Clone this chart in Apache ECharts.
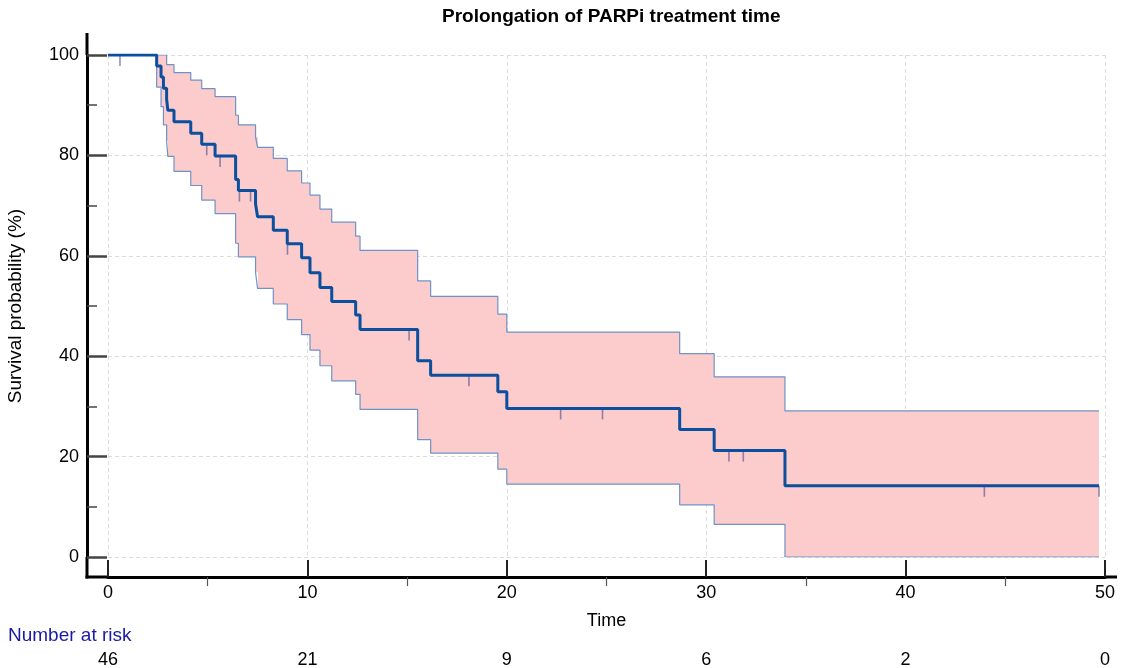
<!DOCTYPE html>
<html>
<head>
<meta charset="utf-8">
<script src="https://cdn.jsdelivr.net/npm/echarts@6/dist/echarts.min.js"></script>
<style>
  html, body { margin: 0; padding: 0; background: #fff; }
  #grafico { width: 1122px; height: 668px; }
</style>
</head>
<body>
<div id="grafico"></div>
<script>
// Datos
const tiempos = [0, 2.44, 2.66, 2.78, 2.94, 3.0, 3.31, 4.15, 4.7, 5.37, 6.4, 6.54, 7.4, 7.5, 8.29, 8.99,
  9.71, 10.13, 10.63, 11.22, 12.42, 12.64, 15.53, 16.18, 19.55, 20.0, 28.67, 30.4, 33.95];
const supervivencia = [100, 97.8, 95.6, 93.4, 91.2, 89.0, 86.7, 84.4, 82.2, 79.9, 75.2, 73.0, 70.3, 67.8, 65.1, 62.4,
  59.6, 56.6, 53.7, 50.9, 48.2, 45.3, 39.1, 36.2, 32.9, 29.6, 25.4, 21.2, 14.2];
const limiteSuperior = [100, 100, 100, 100, 98.1, 98.1, 96.5, 95.0, 93.3, 91.7, 88.0, 86.1, 83.7, 81.6, 79.4, 76.9,
  74.5, 72.1, 69.3, 66.7, 63.9, 61.1, 55.0, 51.9, 48.4, 44.8, 40.5, 35.9, 29.1];
const limiteInferior = [100, 93.6, 89.7, 86.1, 82.9, 79.8, 76.8, 74.0, 71.1, 68.4, 62.5, 59.8, 56.7, 53.5, 50.4, 47.3,
  44.3, 41.2, 38.1, 35.1, 32.4, 29.4, 23.4, 20.7, 17.5, 14.5, 10.4, 6.5, 0];
const tiempoFinal = 49.7;
const censurados = [0.6, 4.95, 5.62, 6.59, 7.15, 9.0, 15.1, 18.1, 22.7, 24.8, 31.14, 31.86, 43.95, 49.7];

const riesgoTiempos = [0, 10, 20, 30, 40, 50];
const riesgoNumeros = [46, 21, 9, 6, 2, 0];

// Layout
const gLeft = 108, gRight = 17, gTop = 55, gBottom = 111;
const W = 1122, H = 668;
const fuente = 'Liberation Sans, Arial, sans-serif';

// PROCESAMIENTO
function conFinal(valores) {
  const out = tiempos.map((t, i) => [t, valores[i]]);
  out.push([tiempoFinal, valores[valores.length - 1]]);
  return out;
}

function valorEn(t) {
  let v = supervivencia[0];
  for (let i = 0; i < tiempos.length; i++) {
    if (tiempos[i] <= t) v = supervivencia[i];
  }
  return v;
}

const datosSup = conFinal(supervivencia);
const datosLimSup = conFinal(limiteSuperior);
const datosLimInf = conFinal(limiteInferior);
// tramos de la banda de confianza: [t0, t1, inferior, superior]
const datosBanda = tiempos.map((t, i) => [
  t, i + 1 < tiempos.length ? tiempos[i + 1] : tiempoFinal, limiteInferior[i], limiteSuperior[i]
]);
const datosCensura = censurados.map(t => [t, valorEn(t)]);

function dibujarTramo(params, api) {
  const a = api.coord([api.value(0), api.value(3)]);
  const b = api.coord([api.value(1), api.value(2)]);
  const x0 = Math.round(a[0]), x1 = Math.round(b[0]);
  return {
    type: 'rect',
    shape: { x: x0, y: a[1], width: x1 - x0, height: b[1] - a[1] },
    style: { fill: '#fccbcb' }
  };
}

function crearGrafico() {
  const axisX = H - gBottom + 20;
  const axisY = gLeft - 21;
  const ejeNegro = { type: 'line', silent: true, style: { stroke: '#000', lineWidth: 3 } };
  const lineaIC = { color: '#7092c8', width: 1.2 };
  return {
    animation: false,
    title: [
      {
        text: 'Prolongation of PARPi treatment time',
        left: 437, top: 2,
        textStyle: { fontFamily: fuente, fontSize: 19, fontWeight: 'bold', color: '#000' }
      },
      {
        text: 'Number at risk',
        left: 3, top: 621,
        textStyle: { fontFamily: fuente, fontSize: 19, fontWeight: 'normal', color: '#1a1aa6' }
      }
    ],
    grid: {
      left: gLeft, right: gRight, top: gTop, bottom: gBottom,
      containLabel: false, outerBoundsMode: 'none'
    },
    xAxis: [
      {
        type: 'value', min: 0, max: 50, interval: 10, offset: 20,
        name: 'Time', nameLocation: 'middle', nameGap: 35,
        nameTextStyle: { fontFamily: fuente, fontSize: 18, color: '#000' },
        axisLine: { show: true, onZero: false, lineStyle: { color: '#000', width: 3 } },
        axisTick: { show: false },
        minorTick: { show: true, splitNumber: 2, length: 9, lineStyle: { color: '#555', width: 1.2 } },
        axisLabel: { margin: 7, fontFamily: fuente, fontSize: 18, color: '#000' },
        splitLine: { show: true, lineStyle: { color: '#dcdcdc', type: [4, 3] } }
      },
      {
        type: 'value', min: 0, max: 50, interval: 10, position: 'bottom', offset: 90,
        axisLine: { show: false, onZero: false }, axisTick: { show: false }, splitLine: { show: false },
        axisLabel: {
          margin: 4, fontFamily: fuente, fontSize: 18, color: '#000',
          formatter: v => {
            const i = riesgoTiempos.indexOf(v);
            return i >= 0 ? String(riesgoNumeros[i]) : '';
          }
        }
      },
      {
        // marcas principales del eje de tiempo
        type: 'value', min: 0, max: 50, interval: 10, position: 'bottom', offset: 20, z: 10,
        axisLine: { show: false, onZero: false }, splitLine: { show: false }, axisLabel: { show: false },
        axisTick: { show: true, inside: true, length: 17, lineStyle: { color: '#222', width: 2 } }
      }
    ],
    yAxis: {
      type: 'value', min: 0, max: 100, interval: 20, offset: 21,
      name: 'Survival probability (%)', nameLocation: 'middle', nameGap: 62,
      nameTextStyle: { fontFamily: fuente, fontSize: 19, color: '#000' },
      axisLine: { show: true, onZero: false, lineStyle: { color: '#000', width: 3 } },
      axisTick: { show: true, inside: true, length: 20, lineStyle: { color: '#444', width: 2.5 } },
      minorTick: { show: true, splitNumber: 2, length: 10, lineStyle: { color: '#444', width: 1.5 } },
      axisLabel: { margin: 8, fontFamily: fuente, fontSize: 18, color: '#000' },
      splitLine: { show: true, lineStyle: { color: '#dcdcdc', type: [4, 3] } }
    },
    // prolongacion de los ejes fuera del area de datos
    graphic: [
      Object.assign({ shape: { x1: axisY, y1: 33, x2: axisY, y2: gTop } }, ejeNegro),
      Object.assign({ shape: { x1: axisY, y1: H - gBottom, x2: axisY, y2: axisX + 1.5 } }, ejeNegro),
      Object.assign({ shape: { x1: axisY - 1.5, y1: axisX, x2: gLeft, y2: axisX } }, ejeNegro),
      Object.assign({ shape: { x1: W - gRight, y1: axisX, x2: 1117, y2: axisX } }, ejeNegro)
    ],
    series: [
      {
        name: 'Banda', type: 'custom', data: datosBanda, z: 1,
        encode: { x: [0, 1], y: [2, 3] },
        renderItem: dibujarTramo, silent: true
      },
      {
        name: 'Superior', type: 'line', step: 'end', symbol: 'none',
        data: datosLimSup, z: 2, lineStyle: lineaIC
      },
      {
        name: 'Inferior', type: 'line', step: 'end', symbol: 'none',
        data: datosLimInf, z: 2, lineStyle: lineaIC
      },
      {
        name: 'Censurados', type: 'scatter', data: datosCensura, z: 3,
        symbol: 'rect', symbolSize: [1.6, 11], symbolOffset: [0, 5.5],
        itemStyle: { color: 'rgba(70,75,140,0.75)' }
      },
      {
        name: 'Supervivencia', type: 'line', step: 'end', symbol: 'none',
        data: datosSup, z: 4,
        lineStyle: { color: '#0b4f9f', width: 3 }
      }
    ]
  };
}

function iniciar() {
  const chartDom = document.getElementById('grafico');
  const myChart = echarts.init(chartDom, null, { renderer: 'canvas' });
  myChart.setOption(crearGrafico());
}

iniciar();
</script>
</body>
</html>
